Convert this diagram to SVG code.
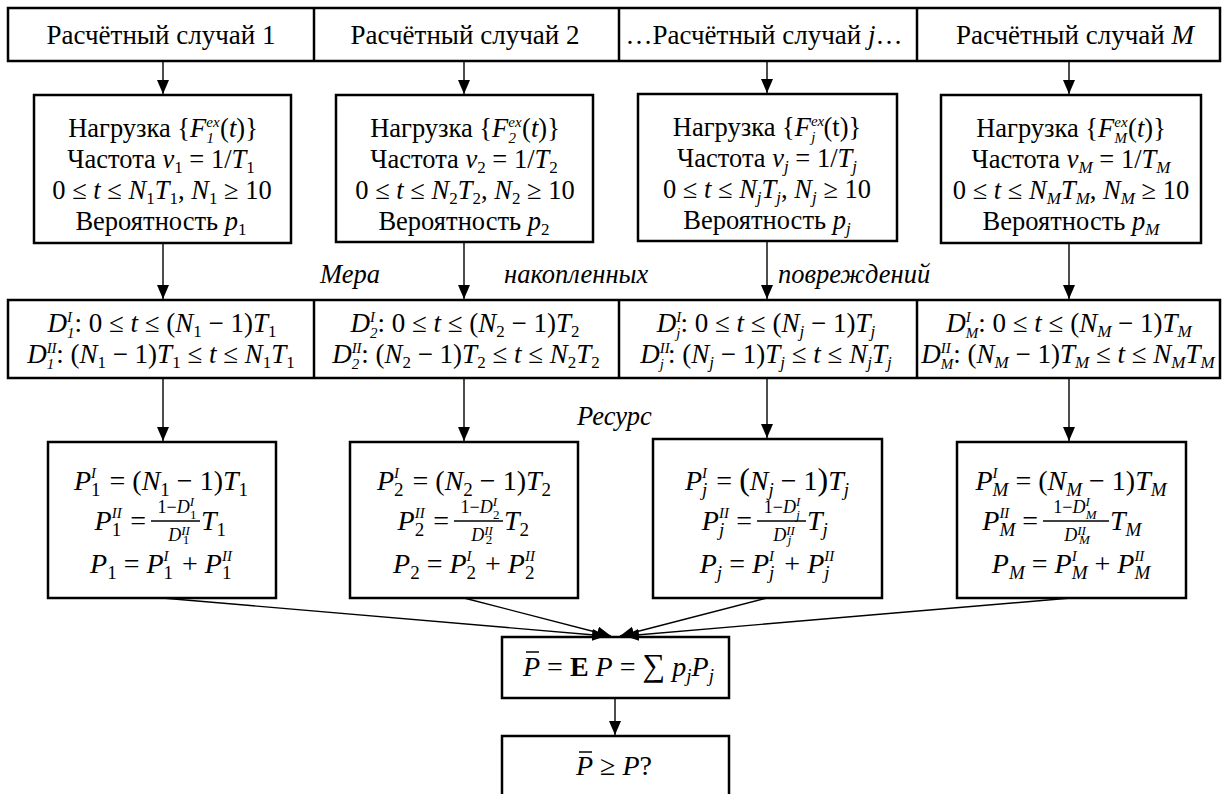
<svg xmlns="http://www.w3.org/2000/svg" width="1227" height="794" viewBox="0 0 1227 794">
<defs>
<marker id="ah" viewBox="0 0 14 12" refX="14" refY="6" markerWidth="14" markerHeight="12" orient="auto" markerUnits="userSpaceOnUse">
<path d="M0,0 L14,6 L0,12 z" fill="#000"/>
</marker>
<style>
.bx{fill:#fff;stroke:#000;stroke-width:2.5}
.dv{stroke:#000;stroke-width:2.5}
.h{font-family:"Liberation Serif","Times New Roman",serif;font-size:27px;text-anchor:middle;fill:#000}
.n{font-family:"Liberation Serif","Times New Roman",serif;font-size:26.5px;text-anchor:middle;fill:#000}
.d{font-family:"Liberation Serif","Times New Roman",serif;font-size:27px;text-anchor:middle;fill:#000}
.m{font-family:"Liberation Serif","Times New Roman",serif;font-size:28px;text-anchor:middle;fill:#000}
.it{font-style:italic}
.s{font-size:17px}
.s2{font-size:19px}
.ss{font-size:15px;font-style:italic}
.lb{font-family:"Liberation Serif","Times New Roman",serif;font-size:26.5px;font-style:italic;fill:#000}
.ar{stroke:#000;stroke-width:1.4;fill:none;marker-end:url(#ah)}
.fr{font-family:"Liberation Serif","Times New Roman",serif;font-size:18px;text-anchor:middle;fill:#000}
.fs{font-size:13px}
.bar{stroke:#000;stroke-width:1.5}
</style>
</defs>
<rect width="1227" height="794" fill="#fff"/>

<g id="cases">
<rect class="bx" x="8" y="8" width="1212" height="53"/>
<line class="dv" x1="314" y1="8" x2="314" y2="61"/>
<line class="dv" x1="619" y1="8" x2="619" y2="61"/>
<line class="dv" x1="917" y1="8" x2="917" y2="61"/>
</g>
<g id="case1"><text class="h" x="161" y="44">Расчётный случай 1</text></g>
<g id="case2"><text class="h" x="465" y="44">Расчётный случай 2</text></g>
<g id="casej"><text class="h" x="764" y="44">…Расчётный случай <tspan class="it">j</tspan>…</text></g>
<g id="caseM"><text class="h" x="1075" y="44">Расчётный случай <tspan class="it">M</tspan></text></g>

<g id="load1">
<rect class="bx" x="34" y="95" width="257" height="148"/>
<text class="n" x="163" y="137">Нагрузка {<tspan class="it">F</tspan><tspan class="ss" dy="-10">ex</tspan><tspan class="ss" dx="-13" dy="16">1</tspan><tspan dx="6" dy="-6">(<tspan class="it">t</tspan>)}</tspan></text>
<text class="n" x="161" y="168">Частота <tspan class="it">ν</tspan><tspan class="s" dy="5">1</tspan><tspan dy="-5"> = 1/</tspan><tspan class="it">T</tspan><tspan class="s" dy="5">1</tspan></text>
<text class="n" x="162" y="199">0 ≤ <tspan class="it">t</tspan> ≤ <tspan class="it">N</tspan><tspan class="s" dy="5">1</tspan><tspan class="it" dy="-5">T</tspan><tspan class="s" dy="5">1</tspan><tspan dy="-5">, </tspan><tspan class="it">N</tspan><tspan class="s" dy="5">1</tspan><tspan dy="-5"> ≥ 10</tspan></text>
<text class="n" x="161" y="230">Вероятность <tspan class="it">p</tspan><tspan class="s" dy="5">1</tspan></text>
</g>
<g id="load2">
<rect class="bx" x="336" y="95" width="257" height="147"/>
<text class="n" x="465" y="137">Нагрузка {<tspan class="it">F</tspan><tspan class="ss" dy="-10">ex</tspan><tspan class="ss" dx="-13" dy="16">2</tspan><tspan dx="6" dy="-6">(<tspan class="it">t</tspan>)}</tspan></text>
<text class="n" x="464" y="168">Частота <tspan class="it">ν</tspan><tspan class="s" dy="5">2</tspan><tspan dy="-5"> = 1/</tspan><tspan class="it">T</tspan><tspan class="s" dy="5">2</tspan></text>
<text class="n" x="465" y="199">0 ≤ <tspan class="it">t</tspan> ≤ <tspan class="it">N</tspan><tspan class="s" dy="5">2</tspan><tspan class="it" dy="-5">T</tspan><tspan class="s" dy="5">2</tspan><tspan dy="-5">, </tspan><tspan class="it">N</tspan><tspan class="s" dy="5">2</tspan><tspan dy="-5"> ≥ 10</tspan></text>
<text class="n" x="464" y="230">Вероятность <tspan class="it">p</tspan><tspan class="s" dy="5">2</tspan></text>
</g>
<g id="loadj">
<rect class="bx" x="638" y="94" width="259" height="147"/>
<text class="n" x="767" y="136">Нагрузка {<tspan class="it">F</tspan><tspan class="ss" dy="-10">ex</tspan><tspan class="ss" dx="-13" dy="16">j</tspan><tspan dx="8" dy="-6">(t)}</tspan></text>
<text class="n" x="767" y="167">Частота <tspan class="it">ν</tspan><tspan class="s it" dy="5">j</tspan><tspan dy="-5"> = 1/</tspan><tspan class="it">T</tspan><tspan class="s it" dy="5">j</tspan></text>
<text class="n" x="767" y="198">0 ≤ <tspan class="it">t</tspan> ≤ <tspan class="it">N</tspan><tspan class="s it" dy="5">j</tspan><tspan class="it" dy="-5">T</tspan><tspan class="s it" dy="5">j</tspan><tspan dy="-5">, </tspan><tspan class="it">N</tspan><tspan class="s it" dy="5">j</tspan><tspan dy="-5"> ≥ 10</tspan></text>
<text class="n" x="767" y="229">Вероятность <tspan class="it">p</tspan><tspan class="s it" dy="5">j</tspan></text>
</g>
<g id="loadM">
<rect class="bx" x="941" y="95" width="260" height="148"/>
<text class="n" x="1071" y="137">Нагрузка {<tspan class="it">F</tspan><tspan class="ss" dy="-10">ex</tspan><tspan class="ss" dx="-13" dy="16">M</tspan><tspan dx="1" dy="-6">(<tspan class="it">t</tspan>)}</tspan></text>
<text class="n" x="1071" y="168">Частота <tspan class="it">ν</tspan><tspan class="s it" dy="5">M</tspan><tspan dy="-5"> = 1/</tspan><tspan class="it">T</tspan><tspan class="s it" dy="5">M</tspan></text>
<text class="n" x="1071" y="199">0 ≤ <tspan class="it">t</tspan> ≤ <tspan class="it">N</tspan><tspan class="s it" dy="5">M</tspan><tspan class="it" dy="-5">T</tspan><tspan class="s it" dy="5">M</tspan><tspan dy="-5">, </tspan><tspan class="it">N</tspan><tspan class="s it" dy="5">M</tspan><tspan dy="-5"> ≥ 10</tspan></text>
<text class="n" x="1071" y="230">Вероятность <tspan class="it">p</tspan><tspan class="s it" dy="5">M</tspan></text>
</g>

<g id="damage">
<rect class="bx" x="8" y="300" width="1212" height="78"/>
<line class="dv" x1="314" y1="300" x2="314" y2="378"/>
<line class="dv" x1="619" y1="300" x2="619" y2="378"/>
<line class="dv" x1="917" y1="300" x2="917" y2="378"/>
</g>
<g id="damage1">
<text class="d" x="162" y="332"><tspan class="it">D</tspan><tspan class="ss" dy="-10">I</tspan><tspan class="ss" dx="-5" dy="16">1</tspan><tspan dy="-6">: 0 ≤ </tspan><tspan class="it">t</tspan> ≤ (<tspan class="it">N</tspan><tspan class="s" dy="5">1</tspan><tspan dy="-5"> − 1)</tspan><tspan class="it">T</tspan><tspan class="s" dy="5">1</tspan></text>
<text class="d" x="161" y="363"><tspan class="it">D</tspan><tspan class="ss" dy="-10">II</tspan><tspan class="ss" dx="-10" dy="16">1</tspan><tspan dx="2" dy="-6">: (</tspan><tspan class="it">N</tspan><tspan class="s" dy="5">1</tspan><tspan dy="-5"> − 1)</tspan><tspan class="it">T</tspan><tspan class="s" dy="5">1</tspan><tspan dy="-5"> ≤ </tspan><tspan class="it">t</tspan> ≤ <tspan class="it">N</tspan><tspan class="s" dy="5">1</tspan><tspan class="it" dy="-5">T</tspan><tspan class="s" dy="5">1</tspan></text>
</g>
<g id="damage2">
<text class="d" x="465" y="332"><tspan class="it">D</tspan><tspan class="ss" dy="-10">I</tspan><tspan class="ss" dx="-5" dy="16">2</tspan><tspan dy="-6">: 0 ≤ </tspan><tspan class="it">t</tspan> ≤ (<tspan class="it">N</tspan><tspan class="s" dy="5">2</tspan><tspan dy="-5"> − 1)</tspan><tspan class="it">T</tspan><tspan class="s" dy="5">2</tspan></text>
<text class="d" x="466" y="363"><tspan class="it">D</tspan><tspan class="ss" dy="-10">II</tspan><tspan class="ss" dx="-10" dy="16">2</tspan><tspan dx="2" dy="-6">: (</tspan><tspan class="it">N</tspan><tspan class="s" dy="5">2</tspan><tspan dy="-5"> − 1)</tspan><tspan class="it">T</tspan><tspan class="s" dy="5">2</tspan><tspan dy="-5"> ≤ </tspan><tspan class="it">t</tspan> ≤ <tspan class="it">N</tspan><tspan class="s" dy="5">2</tspan><tspan class="it" dy="-5">T</tspan><tspan class="s" dy="5">2</tspan></text>
</g>
<g id="damagej">
<text class="d" x="766" y="332"><tspan class="it">D</tspan><tspan class="ss" dy="-10">I</tspan><tspan class="ss" dx="-5" dy="16">j</tspan><tspan dy="-6">: 0 ≤ </tspan><tspan class="it">t</tspan> ≤ (<tspan class="it">N</tspan><tspan class="s it" dy="5">j</tspan><tspan dy="-5"> − 1)</tspan><tspan class="it">T</tspan><tspan class="s it" dy="5">j</tspan></text>
<text class="d" x="766" y="363"><tspan class="it">D</tspan><tspan class="ss" dy="-10">II</tspan><tspan class="ss" dx="-10" dy="16">j</tspan><tspan dx="4" dy="-6">: (</tspan><tspan class="it">N</tspan><tspan class="s it" dy="5">j</tspan><tspan dy="-5"> − 1)</tspan><tspan class="it">T</tspan><tspan class="s it" dy="5">j</tspan><tspan dy="-5"> ≤ </tspan><tspan class="it">t</tspan> ≤ <tspan class="it">N</tspan><tspan class="s it" dy="5">j</tspan><tspan class="it" dy="-5">T</tspan><tspan class="s it" dy="5">j</tspan></text>
</g>
<g id="damageM">
<text class="d" x="1069" y="332"><tspan class="it">D</tspan><tspan class="ss" dy="-10">I</tspan><tspan class="ss" dx="-5" dy="16">M</tspan><tspan dy="-6">: 0 ≤ </tspan><tspan class="it">t</tspan> ≤ (<tspan class="it">N</tspan><tspan class="s it" dy="5">M</tspan><tspan dy="-5"> − 1)</tspan><tspan class="it">T</tspan><tspan class="s it" dy="5">M</tspan></text>
<text class="d" x="1068" y="363"><tspan class="it">D</tspan><tspan class="ss" dy="-10">II</tspan><tspan class="ss" dx="-10" dy="16">M</tspan><tspan dy="-6">: (</tspan><tspan class="it">N</tspan><tspan class="s it" dy="5">M</tspan><tspan dy="-5"> − 1)</tspan><tspan class="it">T</tspan><tspan class="s it" dy="5">M</tspan><tspan dy="-5"> ≤ </tspan><tspan class="it">t</tspan> ≤ <tspan class="it">N</tspan><tspan class="s it" dy="5">M</tspan><tspan class="it" dy="-5">T</tspan><tspan class="s it" dy="5">M</tspan></text>
</g>

<g id="res1">
<rect class="bx" x="48" y="442" width="228" height="156"/>
<text class="m" x="161" y="490"><tspan class="it">P</tspan><tspan class="ss" dy="-12">I</tspan><tspan class="s2" dx="-5" dy="18">1</tspan><tspan dx="2" dy="-6"> = (</tspan><tspan class="it">N</tspan><tspan class="s2" dy="6">1</tspan><tspan dy="-6"> − 1)</tspan><tspan class="it">T</tspan><tspan class="s2" dy="6">1</tspan></text>
<text class="m" x="146" y="530" style="text-anchor:end"><tspan class="it">P</tspan><tspan class="ss" dy="-12">II</tspan><tspan class="s2" dx="-10" dy="18">1</tspan><tspan dx="2" dy="-6"> =</tspan></text>
<line class="bar" x1="151" y1="521" x2="200" y2="521"/>
<text class="fr" x="177" y="513">1−<tspan class="it">D</tspan><tspan class="fs it" dy="-7">I</tspan><tspan class="fs" dx="-4" dy="13">1</tspan></text>
<text class="fr" x="179" y="541"><tspan class="it">D</tspan><tspan class="fs it" dy="-6">II</tspan><tspan class="fs" dx="-7" dy="9">1</tspan></text>
<text class="m" x="201" y="530" style="text-anchor:start"><tspan class="it">T</tspan><tspan class="s2" dy="6">1</tspan></text>
<text class="m" x="161" y="573"><tspan class="it">P</tspan><tspan class="s2" dy="6">1</tspan><tspan dy="-6"> = </tspan><tspan class="it">P</tspan><tspan class="ss" dy="-12">I</tspan><tspan class="s2" dx="-5" dy="18">1</tspan><tspan dx="2" dy="-6"> + </tspan><tspan class="it">P</tspan><tspan class="ss" dy="-12">II</tspan><tspan class="s2" dx="-10" dy="18">1</tspan></text>
</g>
<g id="res2">
<rect class="bx" x="350" y="442" width="228" height="156"/>
<text class="m" x="464" y="490"><tspan class="it">P</tspan><tspan class="ss" dy="-12">I</tspan><tspan class="s2" dx="-5" dy="18">2</tspan><tspan dx="2" dy="-6"> = (</tspan><tspan class="it">N</tspan><tspan class="s2" dy="6">2</tspan><tspan dy="-6"> − 1)</tspan><tspan class="it">T</tspan><tspan class="s2" dy="6">2</tspan></text>
<text class="m" x="449" y="530" style="text-anchor:end"><tspan class="it">P</tspan><tspan class="ss" dy="-12">II</tspan><tspan class="s2" dx="-10" dy="18">2</tspan><tspan dx="2" dy="-6"> =</tspan></text>
<line class="bar" x1="454" y1="521" x2="503" y2="521"/>
<text class="fr" x="480" y="513">1−<tspan class="it">D</tspan><tspan class="fs it" dy="-7">I</tspan><tspan class="fs" dx="-4" dy="13">2</tspan></text>
<text class="fr" x="482" y="541"><tspan class="it">D</tspan><tspan class="fs it" dy="-6">II</tspan><tspan class="fs" dx="-7" dy="9">2</tspan></text>
<text class="m" x="504" y="530" style="text-anchor:start"><tspan class="it">T</tspan><tspan class="s2" dy="6">2</tspan></text>
<text class="m" x="464" y="573"><tspan class="it">P</tspan><tspan class="s2" dy="6">2</tspan><tspan dy="-6"> = </tspan><tspan class="it">P</tspan><tspan class="ss" dy="-12">I</tspan><tspan class="s2" dx="-5" dy="18">2</tspan><tspan dx="2" dy="-6"> + </tspan><tspan class="it">P</tspan><tspan class="ss" dy="-12">II</tspan><tspan class="s2" dx="-10" dy="18">2</tspan></text>
</g>
<g id="resj">
<rect class="bx" x="653" y="439" width="229" height="159"/>
<text class="m" x="767" y="490"><tspan class="it">P</tspan><tspan class="ss" dy="-12">I</tspan><tspan class="s2 it" dx="-5" dy="18">j</tspan><tspan dx="2" dy="-6"> = </tspan><tspan font-size="32">(</tspan><tspan class="it">N</tspan><tspan class="s2 it" dy="6">j</tspan><tspan dy="-6"> − 1</tspan><tspan font-size="32">)</tspan><tspan class="it">T</tspan><tspan class="s2 it" dy="6">j</tspan></text>
<text class="m" x="752" y="530" style="text-anchor:end"><tspan class="it">P</tspan><tspan class="ss" dy="-12">II</tspan><tspan class="s2 it" dx="-10" dy="18">j</tspan><tspan dx="5" dy="-6"> =</tspan></text>
<line class="bar" x1="757" y1="521" x2="806" y2="521"/>
<text class="fr" x="782" y="513">1−<tspan class="it">D</tspan><tspan class="fs it" dy="-7">I</tspan><tspan class="fs it" dx="-4" dy="13">j</tspan></text>
<text class="fr" x="784" y="541"><tspan class="it">D</tspan><tspan class="fs it" dy="-6">II</tspan><tspan class="fs it" dx="-7" dy="9">j</tspan></text>
<text class="m" x="807" y="530" style="text-anchor:start"><tspan class="it">T</tspan><tspan class="s2 it" dy="6">j</tspan></text>
<text class="m" x="767" y="573"><tspan class="it">P</tspan><tspan class="s2 it" dy="6">j</tspan><tspan dy="-6"> = </tspan><tspan class="it">P</tspan><tspan class="ss" dy="-12">I</tspan><tspan class="s2 it" dx="-5" dy="18">j</tspan><tspan dx="3" dy="-6"> + </tspan><tspan class="it">P</tspan><tspan class="ss" dy="-12">II</tspan><tspan class="s2 it" dx="-10" dy="18">j</tspan></text>
</g>
<g id="resM">
<rect class="bx" x="957" y="442" width="229" height="156"/>
<text class="m" x="1071" y="490"><tspan class="it">P</tspan><tspan class="ss" dy="-12">I</tspan><tspan class="s2 it" dx="-5" dy="18">M</tspan><tspan dy="-6"> = (</tspan><tspan class="it">N</tspan><tspan class="s2 it" dy="6">M</tspan><tspan dy="-6"> − 1)</tspan><tspan class="it">T</tspan><tspan class="s2 it" dy="6">M</tspan></text>
<text class="m" x="1038" y="530" style="text-anchor:end"><tspan class="it">P</tspan><tspan class="ss" dy="-12">II</tspan><tspan class="s2 it" dx="-10" dy="18">M</tspan><tspan dy="-6"> =</tspan></text>
<line class="bar" x1="1043" y1="521" x2="1109" y2="521"/>
<text class="fr" x="1075" y="513">1−<tspan class="it">D</tspan><tspan class="fs it" dy="-7">I</tspan><tspan class="fs it" dx="-4" dy="13">M</tspan></text>
<text class="fr" x="1077" y="541"><tspan class="it">D</tspan><tspan class="fs it" dy="-6">II</tspan><tspan class="fs it" dx="-7" dy="9">M</tspan></text>
<text class="m" x="1110" y="530" style="text-anchor:start"><tspan class="it">T</tspan><tspan class="s2 it" dy="6">M</tspan></text>
<text class="m" x="1071" y="573"><tspan class="it">P</tspan><tspan class="s2 it" dy="6">M</tspan><tspan dy="-6"> = </tspan><tspan class="it">P</tspan><tspan class="ss" dy="-12">I</tspan><tspan class="s2 it" dx="-5" dy="18">M</tspan><tspan dy="-6"> + </tspan><tspan class="it">P</tspan><tspan class="ss" dy="-12">II</tspan><tspan class="s2 it" dx="-10" dy="18">M</tspan></text>
</g>

<g id="mean">
<rect class="bx" x="502" y="637" width="227" height="61"/>
<text class="m" x="523" y="676" style="text-anchor:start"><tspan class="it">P</tspan> = <tspan font-weight="bold">E</tspan> <tspan class="it">P</tspan> = <tspan font-size="32">∑</tspan> <tspan class="it">p</tspan><tspan class="s2 it" dy="6">j</tspan><tspan class="it" dy="-6">P</tspan><tspan class="s2 it" dy="6">j</tspan></text>
<line class="bar" x1="526" y1="652" x2="539" y2="652"/>
</g>
<g id="check">
<rect class="bx" x="502" y="736" width="227" height="70"/>
<text class="m" x="576" y="775" style="text-anchor:start"><tspan class="it">P</tspan> ≥ <tspan class="it">P</tspan>?</text>
<line class="bar" x1="579" y1="752" x2="592" y2="752"/>
</g>

<g id="labels">
<text class="lb" x="320" y="283">Мера</text>
<text class="lb" x="504" y="283">накопленных</text>
<text class="lb" x="778" y="283">повреждений</text>
<text class="lb" x="577" y="425">Ресурс</text>
</g>

<g id="connectors">
<line class="ar" x1="163" y1="61" x2="163" y2="94"/>
<line class="ar" x1="464" y1="61" x2="464" y2="94"/>
<line class="ar" x1="767" y1="61" x2="767" y2="93"/>
<line class="ar" x1="1069" y1="61" x2="1069" y2="94"/>
<line class="ar" x1="163" y1="243" x2="163" y2="299"/>
<line class="ar" x1="464" y1="242" x2="464" y2="299"/>
<line class="ar" x1="767" y1="241" x2="767" y2="299"/>
<line class="ar" x1="1069" y1="243" x2="1069" y2="299"/>
<line class="ar" x1="163" y1="378" x2="163" y2="441"/>
<line class="ar" x1="464" y1="378" x2="464" y2="441"/>
<line class="ar" x1="767" y1="378" x2="767" y2="438"/>
<line class="ar" x1="1069" y1="378" x2="1069" y2="441"/>
<line class="ar" x1="162" y1="598" x2="606" y2="636"/>
<line class="ar" x1="464" y1="598" x2="611" y2="636"/>
<line class="ar" x1="767" y1="598" x2="620" y2="636"/>
<line class="ar" x1="1071" y1="598" x2="625" y2="636"/>
<line class="ar" x1="615" y1="698" x2="615" y2="735"/>
</g>
</svg>
